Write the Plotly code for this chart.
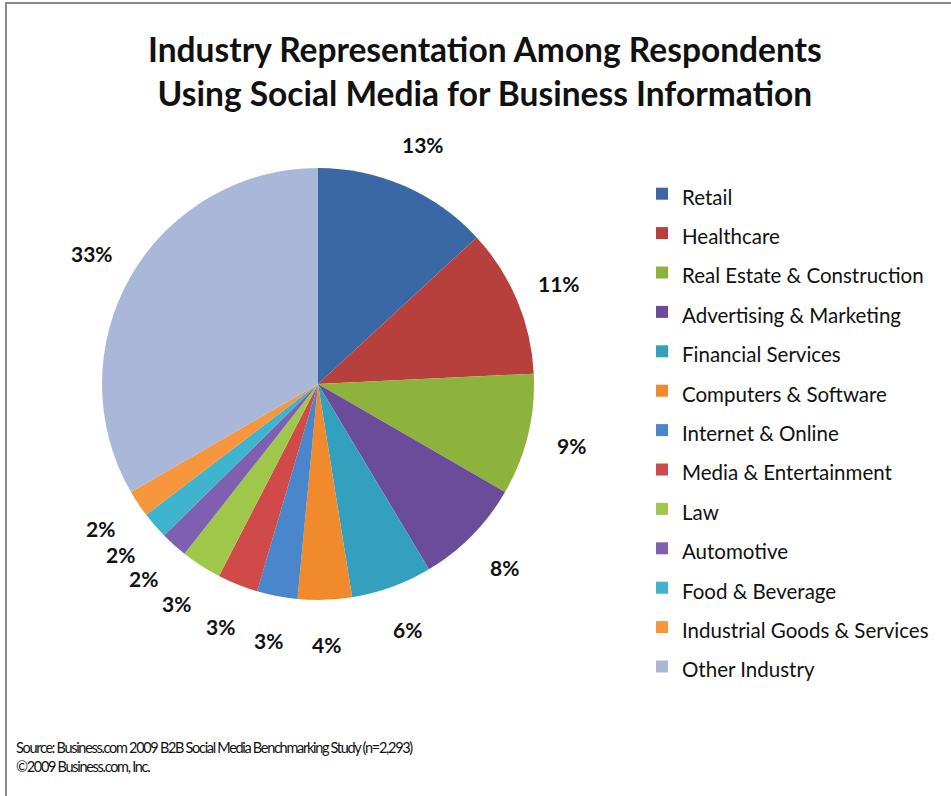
import math
import plotly.graph_objects as go

# Industry share of respondents (percent)
industries = [
    "Retail", "Healthcare", "Real Estate & Construction", "Advertising & Marketing",
    "Financial Services", "Computers & Software", "Internet & Online",
    "Media & Entertainment", "Law", "Automotive", "Food & Beverage",
    "Industrial Goods & Services", "Other Industry",
]
shares = [13, 11, 9, 8, 6, 4, 3, 3, 3, 2, 2, 2, 33]
slice_colors = [
    "#3a68a4", "#b8403c", "#8db33c", "#6a4c9a", "#33a0be", "#f08a2c",
    "#4a86cc", "#d04a4a", "#9fc84a", "#7f5faf", "#3fb4ce", "#f7963c", "#a9b8d9",
]

W, H = 951, 796
CX, CY, R = 318, 384, 216          # pie centre and radius in pixels
LABEL_R = 261                      # radius at which percentage labels sit

fig = go.Figure(
    go.Pie(
        labels=[f'<span style="font-size:20.5px">{s}</span>' for s in industries],
        values=shares,
        marker=dict(colors=slice_colors, line=dict(width=0)),
        sort=False,
        direction="clockwise",
        rotation=0,
        textinfo="none",
        hoverinfo="label+percent",
        domain=dict(x=[(CX - R) / W, (CX + R) / W], y=[1 - (CY + R) / H, 1 - (CY - R) / H]),
    )
)

# Percentage labels at the middle angle of each slice
total = sum(shares)
annotations = []
cum = 0
for v in shares:
    mid = (cum + v / 2) / total * 2 * math.pi
    cum += v
    px = CX + LABEL_R * math.sin(mid)
    py = CY - LABEL_R * math.cos(mid)
    annotations.append(dict(
        x=px / W, y=1 - py / H, xref="paper", yref="paper",
        text=f"{v}%", showarrow=False, xanchor="center", yanchor="middle",
        font=dict(family="Lato", size=21, color="#111111", weight="bold"),
    ))

annotations.append(dict(
    x=485 / W, y=1 - 71 / H, xref="paper", yref="paper", showarrow=False,
    xanchor="center", yanchor="middle",
    text="Industry Representation Among Respondents<br>Using Social Media for Business Information",
    font=dict(family="Lato", size=33.5, color="#111111", weight="bold"),
))
annotations.append(dict(
    x=14 / W, y=1 - 757 / H, xref="paper", yref="paper", showarrow=False,
    xanchor="left", yanchor="middle", align="left",
    text=('<span style="letter-spacing:-1.3px">Source: Business.com 2009 B2B Social Media '
          'Benchmarking Study (n=2,293)</span><br>'
          '<span style="letter-spacing:-1.3px">©2009 Business.com, Inc.</span>'),
    font=dict(family="Lato", size=14.5, color="#111111"),
))

fig.update_layout(
    width=W, height=H,
    margin=dict(l=0, r=0, t=0, b=0),
    paper_bgcolor="white",
    plot_bgcolor="white",
    showlegend=True,
    legend=dict(
        x=642 / W, y=1 - 169 / H, xanchor="left", yanchor="top",
        font=dict(family="Lato", size=28, color="#111111"),
        bgcolor="rgba(0,0,0,0)",
        traceorder="normal",
    ),
    annotations=annotations,
    shapes=[dict(
        type="rect", xref="paper", yref="paper",
        x0=6 / W, x1=1.02, y0=-0.02, y1=1 - 3 / H,
        line=dict(color="#8a8a8a", width=2), fillcolor="rgba(0,0,0,0)", layer="above",
    )],
)

fig.write_html("out.html")
